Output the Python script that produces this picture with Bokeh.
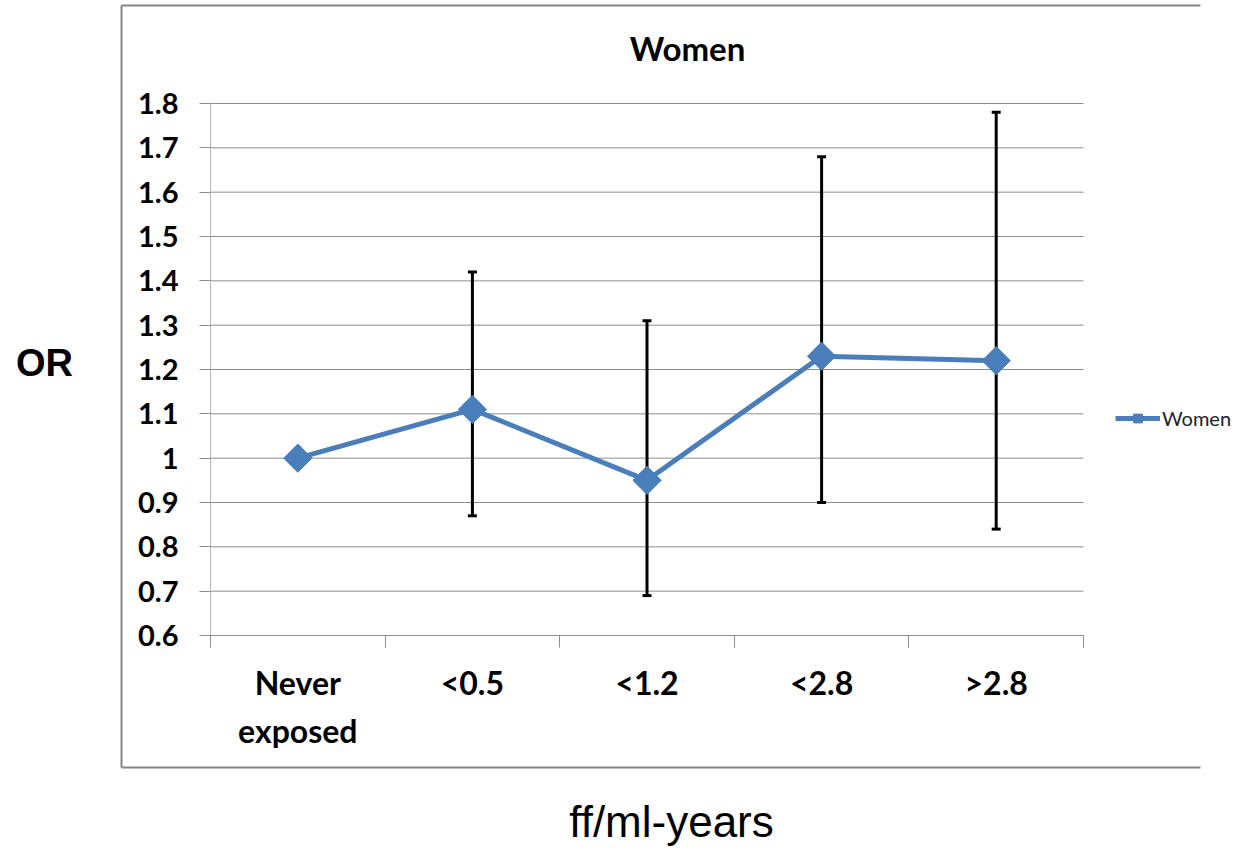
import math
from bokeh.plotting import figure
from bokeh.models import (ColumnDataSource, Whisker, TeeHead, Label,
                          FixedTicker, Legend, LegendItem, Range1d, LinearAxis)
from bokeh.embed import file_html
from bokeh.resources import INLINE

# ---- data ----
categories = ["Never\nexposed", "<0.5", "<1.2", "<2.8", ">2.8"]
odds_ratio = [1.00, 1.11, 0.95, 1.23, 1.22]
ci_lower = [None, 0.87, 0.69, 0.90, 0.84]
ci_upper = [None, 1.42, 1.31, 1.68, 1.78]
y_ticks = [0.6, 0.7, 0.8, 0.9, 1.0, 1.1, 1.2, 1.3, 1.4, 1.5, 1.6, 1.7, 1.8]
y_tick_labels = ["0.6", "0.7", "0.8", "0.9", "1", "1.1", "1.2", "1.3", "1.4", "1.5", "1.6", "1.7", "1.8"]
series_name = "Women"
chart_title = "Women"
y_title = "OR"
x_title = "ff/ml-years"

# ---- layout (pixels) ----
W, H = 1231, 847
PLOT_L, PLOT_R, PLOT_T, PLOT_B = 210, 1083, 103, 635   # plot area inside the canvas
BOX_L, BOX_R, BOX_T, BOX_B = 121, 1200, 5, 767          # chart-area border (right side open)
BLUE = "#4A7EBB"
GRID = "#8C8C8C"
FONT = "Lato"

n = len(categories)
y_lo, y_hi = y_ticks[0], y_ticks[-1]
px_x = (PLOT_R - PLOT_L) / n
px_y = (PLOT_B - PLOT_T) / (y_hi - y_lo)
x_range = Range1d(0 - PLOT_L / px_x, n + (W - PLOT_R) / px_x)
y_range = Range1d(y_lo - (H - PLOT_B) / px_y, y_hi + PLOT_T / px_y)


def sx_to_data(px):
    return (px - PLOT_L) / px_x


def sy_to_data(py):
    return y_lo + (PLOT_B - py) / px_y


p = figure(width=W, height=H, output_backend="svg", toolbar_location=None,
           x_range=x_range, y_range=y_range,
           x_axis_location=None, y_axis_location=None,
           min_border=0, min_border_left=0, min_border_right=0,
           min_border_top=0, min_border_bottom=0)
p.outline_line_color = None
p.grid.visible = False
p.background_fill_color = "white"
p.border_fill_color = "white"

xs = [i + 0.5 for i in range(n)]

# outer chart border (open on the right, as in the reference)
bx0, bx1 = sx_to_data(BOX_L), sx_to_data(BOX_R)
by0, by1 = sy_to_data(BOX_T), sy_to_data(BOX_B)
p.segment(x0=[bx0, bx0, bx0], x1=[bx1, bx1, bx0], y0=[by0, by1, by0], y1=[by0, by1, by1],
          line_color="#858585", line_width=2, level="image")

# horizontal gridlines
p.segment(x0=[0] * len(y_ticks), x1=[n] * len(y_ticks), y0=y_ticks, y1=y_ticks,
          line_color=GRID, line_width=1, level="image")

# y axis (fixed at x = 0)
yax = LinearAxis(fixed_location=0, bounds=(y_lo, y_hi),
                 ticker=FixedTicker(ticks=y_ticks, minor_ticks=[]))
yax.major_label_overrides = {t: l for t, l in zip(y_ticks, y_tick_labels)}
yax.axis_line_color = "#B4B4B4"
yax.major_tick_line_color = GRID
yax.major_tick_out = 11
yax.major_tick_in = 0
yax.minor_tick_line_color = None
yax.major_label_standoff = 21
yax.major_label_text_font = FONT
yax.major_label_text_font_style = "bold"
yax.major_label_text_font_size = "29px"
yax.major_label_text_color = "black"
p.add_layout(yax, "left")

# x axis (fixed at y = 0.6): first lines of category labels + boundary ticks
first_lines = [c.split("\n")[0] for c in categories]
second_lines = [c.split("\n")[1] if "\n" in c else "" for c in categories]
xax = LinearAxis(fixed_location=y_lo, bounds=(0, n),
                 ticker=FixedTicker(ticks=xs, minor_ticks=list(range(n + 1))))
xax.major_label_overrides = {x: t for x, t in zip(xs, first_lines)}
xax.axis_line_color = GRID
xax.major_tick_line_color = None
xax.major_tick_out = 0
xax.minor_tick_line_color = GRID
xax.minor_tick_out = 12
xax.minor_tick_in = 0
xax.major_label_standoff = 15
xax.major_label_text_font = FONT
xax.major_label_text_font_style = "bold"
xax.major_label_text_font_size = "32px"
xax.major_label_text_color = "black"
p.add_layout(xax, "below")

xax2 = LinearAxis(fixed_location=y_lo, bounds=(0, n),
                  ticker=FixedTicker(ticks=xs, minor_ticks=[]))
xax2.major_label_overrides = {x: t for x, t in zip(xs, second_lines)}
xax2.axis_line_color = None
xax2.major_tick_line_color = None
xax2.minor_tick_line_color = None
xax2.major_tick_out = 0
xax2.major_label_standoff = 75
xax2.major_label_text_font = FONT
xax2.major_label_text_font_style = "bold"
xax2.major_label_text_font_size = "32px"
xax2.major_label_text_color = "black"
p.add_layout(xax2, "below")

# error bars
err_idx = [i for i in range(n) if ci_lower[i] is not None]
err_src = ColumnDataSource(dict(x=[xs[i] for i in err_idx],
                                lower=[ci_lower[i] for i in err_idx],
                                upper=[ci_upper[i] for i in err_idx]))
whisk = Whisker(base="x", lower="lower", upper="upper", source=err_src,
                line_color="black", line_width=3, level="underlay",
                upper_head=TeeHead(size=9, line_width=3, line_color="black"),
                lower_head=TeeHead(size=9, line_width=3, line_color="black"))
p.add_layout(whisk)

# series
src = ColumnDataSource(dict(x=xs, y=odds_ratio))
ln = p.line("x", "y", source=src, line_color=BLUE, line_width=5)
mk = p.scatter("x", "y", source=src, marker="square", size=20, angle=math.pi / 4,
               fill_color=BLUE, line_color=BLUE)

legend = Legend(items=[LegendItem(label=series_name, renderers=[ln, mk])],
                location=(1115, H - 419 - 11), padding=0, margin=0, spacing=0,
                glyph_width=45, glyph_height=22, label_standoff=2,
                label_text_font=FONT, label_text_font_size="20px",
                label_text_color="#222222",
                border_line_color=None, background_fill_alpha=0)
p.add_layout(legend, "center")

# titles
p.add_layout(Label(x=687, y=H - 47, x_units="screen", y_units="screen", text=chart_title,
                   text_align="center", text_baseline="middle", text_font=FONT,
                   text_font_style="bold", text_font_size="33px", text_color="black"))
p.add_layout(Label(x=44, y=H - 362, x_units="screen", y_units="screen", text=y_title,
                   text_align="center", text_baseline="middle", text_font="Liberation Sans",
                   text_font_style="bold", text_font_size="38px", text_color="black"))
p.add_layout(Label(x=671, y=H - 821, x_units="screen", y_units="screen", text=x_title,
                   text_align="center", text_baseline="middle", text_font="Liberation Sans",
                   text_font_size="44px", text_color="black"))

open("out.html", "w").write(file_html(p, INLINE))
